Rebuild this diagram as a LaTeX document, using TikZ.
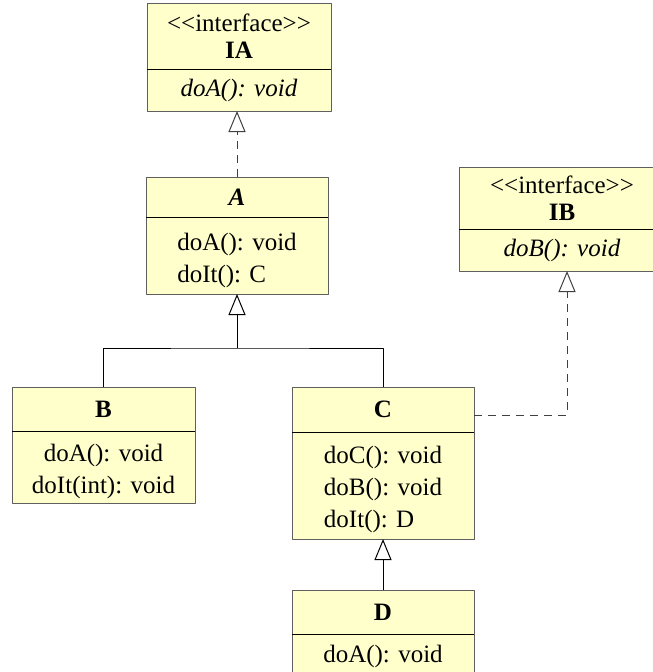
\documentclass[tikz,border=0pt]{standalone}
\usepackage{fontspec}
\newfontfamily\umlfont{Liberation Serif}
\usetikzlibrary{arrows.meta,positioning}
\definecolor{classfill}{RGB}{255,255,204}
\definecolor{classedge}{RGB}{95,95,95}
\begin{document}
\begin{tikzpicture}[x=1pt, y=-1pt, line width=1pt, line join=round,
    font=\umlfont\fontsize{25}{32}\selectfont,
    head/.style={draw=classedge, fill=classfill, inner sep=0pt, outer sep=0pt, anchor=north, align=center, font=\umlfont\fontsize{25}{27}\selectfont},
    body/.style={draw=classedge, fill=classfill, inner sep=0pt, outer sep=0pt},
    realize/.style={draw=black!75, dash pattern=on 8pt off 6pt, -{Triangle[open, length=21pt, width=17pt]}},
    extend/.style={-{Triangle[open, length=21pt, width=17pt]}}]
	\useasboundingbox (0,0) rectangle (653,672);
	
	\node[head, minimum width=184pt, minimum height=66pt] (IA-head) at (239,3) {<<interface>>\\\textbf{IA}};
	\node[body, minimum width=184pt, minimum height=42pt, below=0pt of IA-head] (IA-body) {\textit{doA(): void}};
	
	\node[head, minimum width=182pt, minimum height=40pt] (A-head) at (237,177) {\textbf{\textit{A}}};
	\node[body, minimum width=182pt, minimum height=77pt, text height=59pt, align=left, below=0pt of A-head] (A-body) {doA(): void\\doIt(): C};
	
	\node[head, minimum width=206pt, minimum height=62pt] (IB-head) at (562,167) {<<interface>>\\\textbf{IB}};
	\node[body, minimum width=206pt, minimum height=42pt, below=0pt of IB-head] (IB-body) {\textit{doB(): void}};
	
	\node[head, minimum width=183pt, minimum height=44pt] (B-head) at (103.5,387) {\textbf{B}};
	\node[body, minimum width=183pt, minimum height=72pt, text height=57.5pt, align=center, below=0pt of B-head] (B-body) {doA(): void\\doIt(int): void};
	
	\node[head, minimum width=182pt, minimum height=45pt] (C-head) at (383,387) {\textbf{C}};
	\node[body, minimum width=182pt, minimum height=107pt, text height=90pt, align=left, below=0pt of C-head] (C-body) {doC(): void\\doB(): void\\doIt(): D};
	
	\node[head, minimum width=182pt, minimum height=44pt] (D-head) at (383,590) {\textbf{D}};
	\node[body, minimum width=182pt, minimum height=44pt, below=0pt of D-head] (D-body) {doA(): void};
	
	\foreach \c in {IA,A,IB,B,C,D}
		\draw (\c-head.south west) -- (\c-head.south east);
	
	\coordinate (fork) at (A-body.south |- 0,348);
	\coordinate (C-port) at ([yshift=-5.5pt]C-head.east);
	
	\draw[realize] (A-head.north) -- (A-head.north |- IA-body.south);
	\draw[extend] (fork) -- (A-body.south);
	\draw (B-head.north) |- (fork) -| (C-head.north);
	\draw[extend] (D-head.north) -- (C-body.south);
	\draw[realize] (C-port) -| ([xshift=5pt]IB-body.south);
\end{tikzpicture}
\end{document}
